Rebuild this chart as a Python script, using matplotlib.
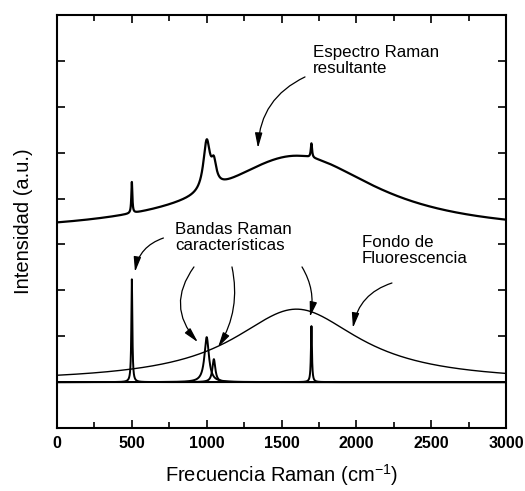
import numpy as np
import matplotlib
matplotlib.use('Agg')
import matplotlib.pyplot as plt
from matplotlib.ticker import MultipleLocator, NullFormatter

plt.rcParams['font.family'] = ['Liberation Sans', 'DejaVu Sans']

# Raman bands (lower trace): position, height above baseline, half width
band_pos = [500, 1000, 1048, 1700]
band_height = [2.24, 0.98, 0.50, 1.22]
band_hwhm = [4, 18, 12, 4]
base_level = 1.0

# Fluorescence background (lower trace)
fluor_center = 1600
fluor_height = 1.59
fluor_hwhm = 515

# Resulting spectrum (upper trace)
top_level = 4.24
top_bg_height = 1.69
top_bg_hwhm = 650
top_height = [0.68, 1.07, 0.45, 0.31]
top_hwhm = [4, 27, 20, 5]

x = np.linspace(0, 3000, 6001)

def lorentz(c, h, w):
    return h / (1 + ((x - c) / w) ** 2)

fluor = base_level + lorentz(fluor_center, fluor_height, fluor_hwhm)
bands = [base_level + lorentz(c, h, w) for c, h, w in zip(band_pos, band_height, band_hwhm)]
top = top_level + lorentz(fluor_center, top_bg_height, top_bg_hwhm)
for c, h, w in zip(band_pos, top_height, top_hwhm):
    top = top + lorentz(c, h, w)

fig = plt.figure(figsize=(5.25, 4.91), dpi=100)
ax = fig.add_axes([0.1086, 0.1283, 0.8552, 0.8412])

ax.plot(x, top, color='black', lw=1.6)
ax.plot(x, fluor, color='black', lw=1.0)
for b in bands:
    ax.plot(x, b, color='black', lw=1.4)

ax.set_xlim(0, 3000)
ax.set_ylim(0, 9)
ax.xaxis.set_major_locator(MultipleLocator(500))
ax.xaxis.set_minor_locator(MultipleLocator(250))
ax.yaxis.set_major_locator(MultipleLocator(1))
ax.yaxis.set_major_formatter(NullFormatter())
ax.tick_params(which='both', direction='in', top=True, right=True, width=1.2)
ax.tick_params(which='major', length=6)
ax.tick_params(which='minor', length=4)
ax.tick_params(axis='x', labelsize=11.5, pad=6)
for lab in ax.get_xticklabels():
    lab.set_fontweight('bold')
for s in ax.spines.values():
    s.set_linewidth(1.5)

ax.set_xlabel('Frecuencia Raman (cm$^{\\mathregular{-1}}$)', fontsize=14.5, labelpad=8)
ax.set_ylabel('Intensidad (a.u.)', fontsize=14.5, labelpad=14)

arrow = dict(arrowstyle='-|>,head_length=0.9,head_width=0.22', color='black', lw=0.9,
             shrinkA=0, shrinkB=0)
fs = 12.2

ax.text(1711, 8.34, 'Espectro Raman\nresultante', fontsize=fs, va='top', linespacing=1.1)
ax.annotate('', xy=(1343, 6.10), xytext=(1657, 7.65),
            arrowprops=dict(arrow, connectionstyle='arc3,rad=0.3'))

ax.text(788, 4.49, 'Bandas Raman\ncaracterísticas', fontsize=fs, va='top', linespacing=1.1)
ax.annotate('', xy=(521, 3.40), xytext=(711, 4.14),
            arrowprops=dict(arrow, connectionstyle='arc3,rad=0.3'))
ax.annotate('', xy=(941, 1.87), xytext=(915, 3.51),
            arrowprops=dict(arrow, connectionstyle='arc3,rad=0.4'))
ax.annotate('', xy=(1076, 1.76), xytext=(1169, 3.51),
            arrowprops=dict(arrow, connectionstyle='arc3,rad=-0.2'))
ax.annotate('', xy=(1690, 2.42), xytext=(1637, 3.51),
            arrowprops=dict(arrow, connectionstyle='arc3,rad=-0.2'))

ax.text(2036, 4.20, 'Fondo de\nFluorescencia', fontsize=fs, va='top', linespacing=1.1)
ax.annotate('', xy=(1977, 2.18), xytext=(2238, 3.16),
            arrowprops=dict(arrow, connectionstyle='arc3,rad=0.3'))

fig.savefig('out.png', dpi=100)
